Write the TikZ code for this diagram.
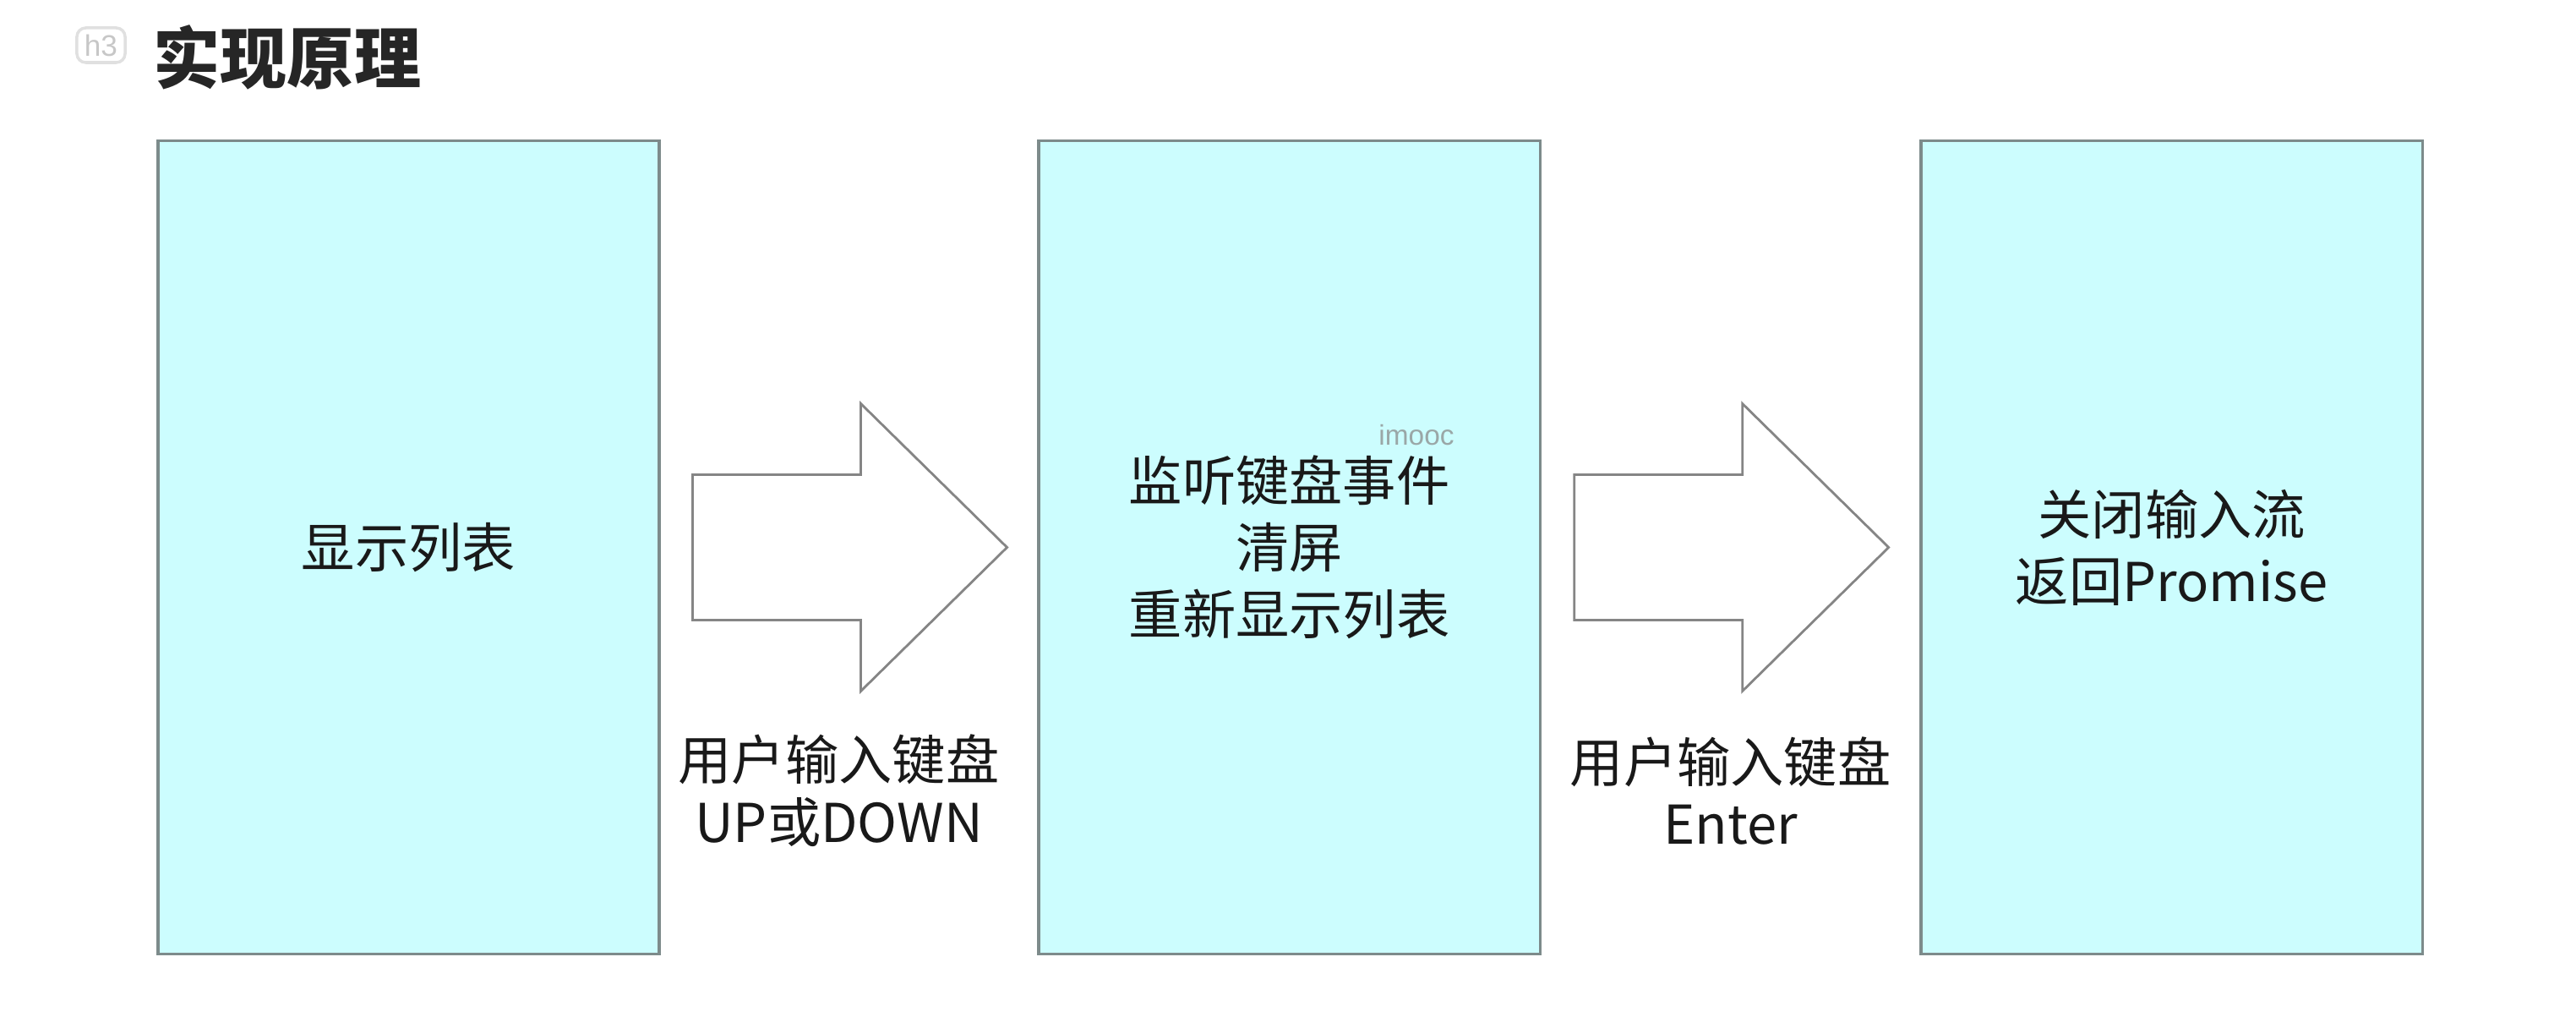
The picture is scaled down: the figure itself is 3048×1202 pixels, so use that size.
\documentclass[tikz,border=0pt]{standalone}
\usepackage{fontspec}
\setmainfont{Noto Sans CJK SC}
\setsansfont{Liberation Sans}
\usetikzlibrary{calc, positioning}
\definecolor{BoxCyan}{HTML}{CCFDFE}
\definecolor{BoxEdge}{HTML}{7D8B8B}
\definecolor{ArrowGray}{HTML}{858585}
\definecolor{MarkGray}{HTML}{9AA7A7}

\tikzset{
  stage/.style={draw=BoxEdge, line width=1pt, fill=BoxCyan, minimum width=5.93cm, minimum height=9.61cm,
    font=\fontsize{18}{22.5}\selectfont, align=center, text=black!90},
  bigarrow/.style={draw=ArrowGray, line width=0.8pt, fill=white, line join=miter},
  keylabel/.style={font=\fontsize{18}{21}\selectfont, align=center, text=black!90}
}

\begin{document}
\begin{tikzpicture}[x=0.01cm, y=0.01cm]
\useasboundingbox (0,0) rectangle (3048,1202);

% Heading
\node[draw=black!12, line width=1pt, rounded corners=3pt, minimum width=0.57cm, minimum height=0.41cm,
  inner sep=0pt, text=black!22, font=\sffamily\fontsize{10}{10}\selectfont] (h3) at (119.5,1148.5) {h3};
\node[anchor=west, inner sep=0pt, font=\fontsize{22.5}{24}\selectfont\bfseries, text=black!85] (title) at (181,1134) {实现原理};

% Three stages
\node[stage] (show) at (483.5,554.5) {显示列表};
\node[stage, right=4.45cm of show] (listen) {监听键盘事件\\清屏\\重新显示列表};
\node[stage, right=4.47cm of listen] (close) {关闭输入流\\返回Promise};

% Watermark
\node[font=\sffamily\fontsize{9.5}{10}\selectfont, text=MarkGray] (mark) at (1676,687) {imooc};

% Block arrows between stages
\foreach \a/\b/\dx/\k in {show/listen/-12/{用户输入键盘\\UP或DOWN}, listen/close/0/{用户输入键盘\\Enter}} {
  \coordinate (mid) at ($(\a.east)!0.5!(\b.west)$);
  \draw[bigarrow] ([shift={(-185,86)}]mid) -- ++(199,0) -- ++(0,84) -- ++(173,-170)
    -- ++(-173,-170) -- ++(0,84) -- ++(-199,0) -- cycle;
  \node[keylabel] (key-\a) at ([shift={(\dx,-288)}]mid) {\k};
}
\end{tikzpicture}
\end{document}
